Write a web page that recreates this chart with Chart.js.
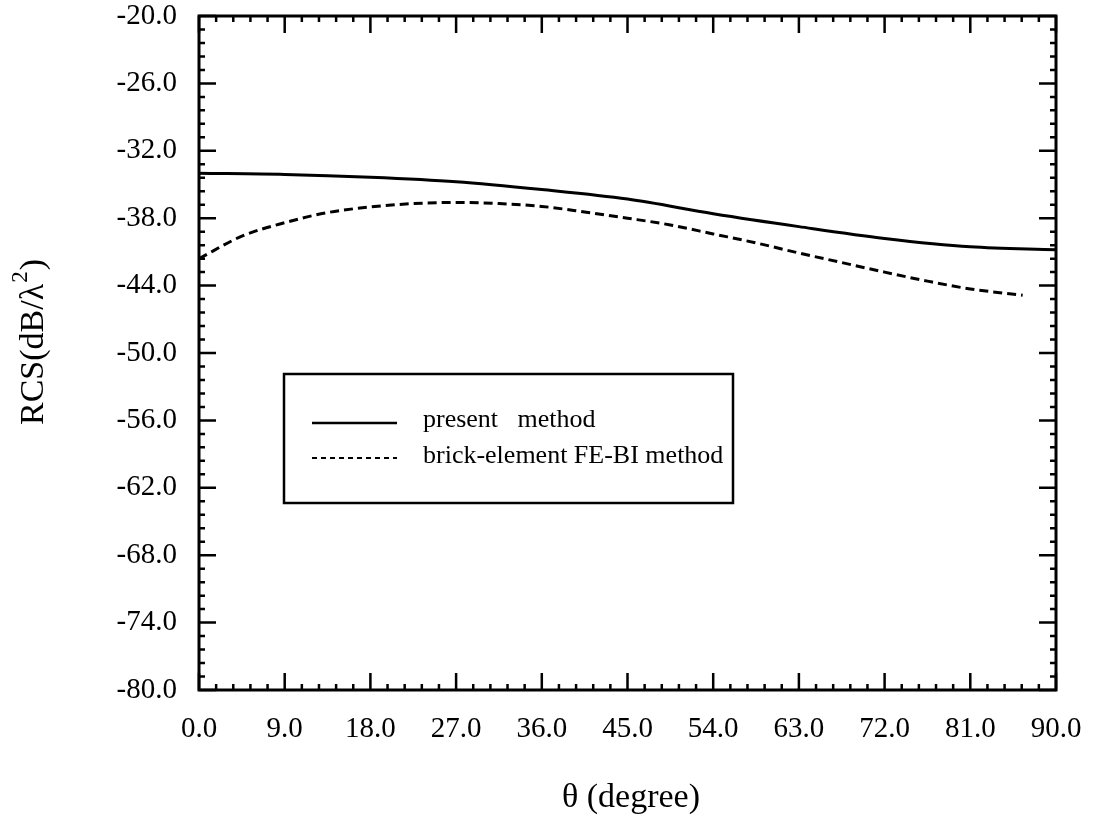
<!DOCTYPE html>
<html>
<head>
<meta charset="utf-8">
<script src="https://cdn.jsdelivr.net/npm/chart.js@4.4.0/dist/chart.umd.min.js"></script>
<style>
  html, body { margin: 0; padding: 0; background: #fff; }
  #wrap { width: 1096px; height: 823px; position: relative; }
</style>
</head>
<body>
<div id="wrap"><canvas id="rcsChart" width="1096" height="823"></canvas></div>
<script>
// data
const thetaPresent = [0, 9, 18, 27, 36, 45, 54, 63, 72, 81, 90];
const rcsPresent = [-34.0, -34.1, -34.35, -34.75, -35.45, -36.3, -37.6, -38.75, -39.8, -40.55, -40.8];

const thetaBrick = [0, 4.5, 9, 13.5, 18, 22.5, 27, 31.5, 36, 40.5, 45, 49.5, 54, 58.5, 63, 67.5, 72, 76.5, 81, 86.5];
const rcsBrick = [-41.6, -39.6, -38.4, -37.5, -37.0, -36.7, -36.6, -36.7, -36.95, -37.45, -38.0, -38.6, -39.4, -40.2, -41.1, -41.95, -42.8, -43.6, -44.3, -44.85];

const seriesNames = ['present   method', 'brick-element FE-BI method'];
const xTicks = [0, 9, 18, 27, 36, 45, 54, 63, 72, 81, 90];
const yTicks = [-20, -26, -32, -38, -44, -50, -56, -62, -68, -74, -80];

const SERIF = '"Liberation Serif", "DejaVu Serif", serif';

function toPoints(xs, ys) { return xs.map((x, i) => ({ x: x, y: ys[i] })); }

// frame + inward ticks on all 4 sides, legend box, axis titles
const framePlugin = {
    id: 'frame',
    afterDraw(chart) {
        const ctx = chart.ctx;
        const a = chart.chartArea;
        const xs = chart.scales.x, ys = chart.scales.y;
        ctx.save();
        ctx.strokeStyle = '#000';
        ctx.lineCap = 'butt';

        // minor + major ticks
        ctx.lineWidth = 2.5;
        for (let v = 0; v <= 90.001; v += 1.8) {
            const px = xs.getPixelForValue(v);
            const major = Math.abs(v / 9 - Math.round(v / 9)) < 1e-6;
            const len = major ? 17 : 6;
            ctx.beginPath();
            ctx.moveTo(px, a.top); ctx.lineTo(px, a.top + len);
            ctx.moveTo(px, a.bottom); ctx.lineTo(px, a.bottom - len);
            ctx.stroke();
        }
        for (let v = -80; v <= -19.999; v += 1.2) {
            const py = ys.getPixelForValue(v);
            const major = Math.abs((v + 80) / 6 - Math.round((v + 80) / 6)) < 1e-6;
            const len = major ? 17 : 6;
            ctx.beginPath();
            ctx.moveTo(a.left, py); ctx.lineTo(a.left + len, py);
            ctx.moveTo(a.right, py); ctx.lineTo(a.right - len, py);
            ctx.stroke();
        }

        // frame
        ctx.lineWidth = 3;
        ctx.strokeRect(a.left, a.top, a.right - a.left, a.bottom - a.top);

        // legend box
        ctx.lineWidth = 2.5;
        ctx.strokeRect(284, 374, 449, 129);
        ctx.beginPath(); ctx.moveTo(312, 423); ctx.lineTo(397, 423); ctx.stroke();
        ctx.lineWidth = 2;
        ctx.setLineDash([5, 4]);
        ctx.beginPath(); ctx.moveTo(312, 458); ctx.lineTo(397, 458); ctx.stroke();
        ctx.setLineDash([]);
        ctx.fillStyle = '#000';
        ctx.font = '26px ' + SERIF;
        ctx.textAlign = 'left';
        ctx.textBaseline = 'middle';
        ctx.fillText(seriesNames[0], 423, 420);
        ctx.fillText(seriesNames[1], 423, 456);

        // x title
        ctx.font = '34px ' + SERIF;
        ctx.textAlign = 'center';
        ctx.textBaseline = 'middle';
        ctx.fillText('θ (degree)', 631, 798);

        // y title with superscript
        ctx.translate(34, 343);
        ctx.rotate(-Math.PI / 2);
        const main = 'RCS(dB/λ', sup = '2', tail = ')';
        ctx.font = '34px ' + SERIF;
        const w1 = ctx.measureText(main).width;
        const w3 = ctx.measureText(tail).width;
        ctx.font = '23px ' + SERIF;
        const w2 = ctx.measureText(sup).width;
        let x0 = -(w1 + w2 + w3) / 2;
        ctx.textAlign = 'left';
        ctx.font = '34px ' + SERIF;
        ctx.fillText(main, x0, 0);
        ctx.font = '23px ' + SERIF;
        ctx.fillText(sup, x0 + w1 + 1, -13);
        ctx.font = '34px ' + SERIF;
        ctx.fillText(tail, x0 + w1 + w2 + 2, 0);
        ctx.restore();
    }
};

new Chart(document.getElementById('rcsChart'), {
    type: 'scatter',
    data: {
        datasets: [
            { label: seriesNames[0], data: toPoints(thetaPresent, rcsPresent), showLine: true,
              borderColor: '#000', borderWidth: 3, pointRadius: 0, cubicInterpolationMode: 'monotone' },
            { label: seriesNames[1], data: toPoints(thetaBrick, rcsBrick), showLine: true,
              borderColor: '#000', borderWidth: 3, borderDash: [9, 5], pointRadius: 0, cubicInterpolationMode: 'monotone' }
        ]
    },
    options: {
        responsive: false, animation: false,
        layout: { padding: { top: 16, right: 40, left: 0, bottom: 0 } },
        plugins: { legend: { display: false }, tooltip: { enabled: false } },
        scales: {
            x: {
                type: 'linear', min: 0, max: 90,
                afterBuildTicks: s => { s.ticks = xTicks.map(v => ({ value: v })); },
                afterFit: s => { s.height = 133; s.paddingLeft = 0; s.paddingRight = 0; },
                grid: { display: false }, border: { display: false },
                ticks: { color: '#000', padding: 14, maxRotation: 0, font: { family: SERIF, size: 29 }, callback: v => v.toFixed(1) }
            },
            y: {
                type: 'linear', min: -80, max: -20,
                afterBuildTicks: s => { s.ticks = yTicks.map(v => ({ value: v })); },
                afterFit: s => { s.width = 199; s.paddingTop = 0; s.paddingBottom = 0; },
                grid: { display: false }, border: { display: false },
                ticks: { color: '#000', padding: 14, font: { family: SERIF, size: 29 }, callback: v => v.toFixed(1) }
            }
        }
    },
    plugins: [framePlugin]
});
</script>
</body>
</html>
